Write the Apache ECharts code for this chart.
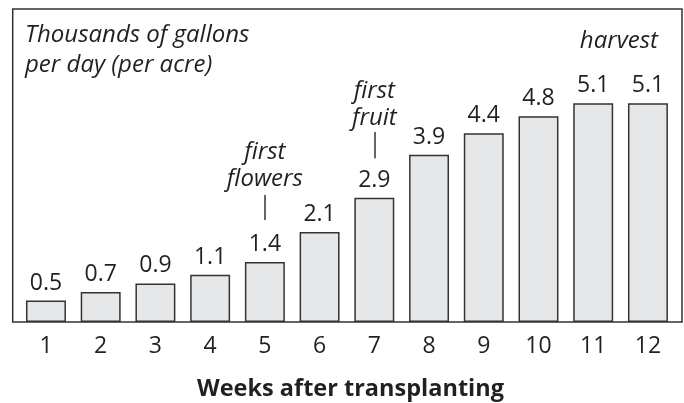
<!DOCTYPE html>
<html>
<head>
<meta charset="utf-8">
<script src="https://cdn.jsdelivr.net/npm/echarts@6/dist/echarts.min.js"></script>
<style>
  html, body { margin: 0; padding: 0; background: #fff; }
  #main { width: 684px; height: 403px; }
</style>
</head>
<body>
<div id="main"></div>
<script>
// 数据
var weeks = ['1', '2', '3', '4', '5', '6', '7', '8', '9', '10', '11', '12'];
var gallons = [0.5, 0.7, 0.9, 1.1, 1.4, 2.1, 2.9, 3.9, 4.4, 4.8, 5.1, 5.1];
var notes = [
    { week: '5', text: 'first\nflowers', textAt: 3.64, lineFrom: 2.38, lineTo: 2.96 },
    { week: '7', text: 'first\nfruit', textAt: 5.06, lineFrom: 3.82, lineTo: 4.43 }
];

var ink = '#231f20';
var font = 'Open Sans';

var myChart = echarts.init(document.getElementById('main'));

var option = {
    backgroundColor: '#fff',
    animation: false,
    title: [
        {
            text: 'Thousands of gallons\nper day (per acre)',
            left: 20,
            top: 15,
            textStyle: { fontFamily: font, fontStyle: 'italic', fontWeight: 'normal', fontSize: 24, lineHeight: 30, color: ink }
        },
        {
            text: 'harvest',
            right: 21,
            top: 24,
            textStyle: { fontFamily: font, fontStyle: 'italic', fontWeight: 'normal', fontSize: 24, color: ink }
        },
        {
            text: 'Weeks after transplanting',
            left: 192,
            top: 372,
            textStyle: { fontFamily: font, fontWeight: 'bold', fontSize: 23.5, color: ink }
        }
    ],
    grid: { left: 18.6, width: 656.7, top: 9, bottom: 81 },
    xAxis: {
        type: 'category',
        data: weeks,
        axisLine: { show: false },
        axisTick: { show: false },
        axisLabel: { fontFamily: font, fontSize: 23, color: ink, margin: 13 }
    },
    yAxis: {
        type: 'value',
        min: 0,
        max: 7.3,
        show: false,
        splitLine: { show: false }
    },
    series: [
        {
            type: 'bar',
            data: gallons,
            barCategoryGap: '27%',
            itemStyle: { color: '#e6e7e8', borderColor: '#333', borderWidth: 1.5 },
            label: {
                show: true,
                position: 'top',
                distance: 6,
                fontFamily: font,
                fontSize: 23,
                color: ink
            },
            markPoint: {
                symbol: 'circle',
                symbolSize: 0,
                silent: true,
                label: {
                    show: true,
                    position: 'inside',
                    fontFamily: font,
                    fontStyle: 'italic',
                    fontSize: 24,
                    lineHeight: 27,
                    color: ink,
                    formatter: function (p) { return p.name; }
                },
                data: notes.map(function (n) {
                    return { name: n.text, coord: [n.week, n.textAt] };
                })
            },
            markLine: {
                symbol: 'none',
                silent: true,
                label: { show: false },
                lineStyle: { color: '#333', width: 1.5, type: 'solid' },
                data: notes.map(function (n) {
                    return [{ coord: [n.week, n.lineFrom] }, { coord: [n.week, n.lineTo] }];
                })
            }
        }
    ],
    graphic: [
        {
            type: 'rect',
            shape: { x: 12.7, y: 9, width: 669.3, height: 313 },
            style: { fill: 'none', stroke: '#333', lineWidth: 1.5 },
            z: 10
        }
    ]
};

myChart.setOption(option);
</script>
</body>
</html>
